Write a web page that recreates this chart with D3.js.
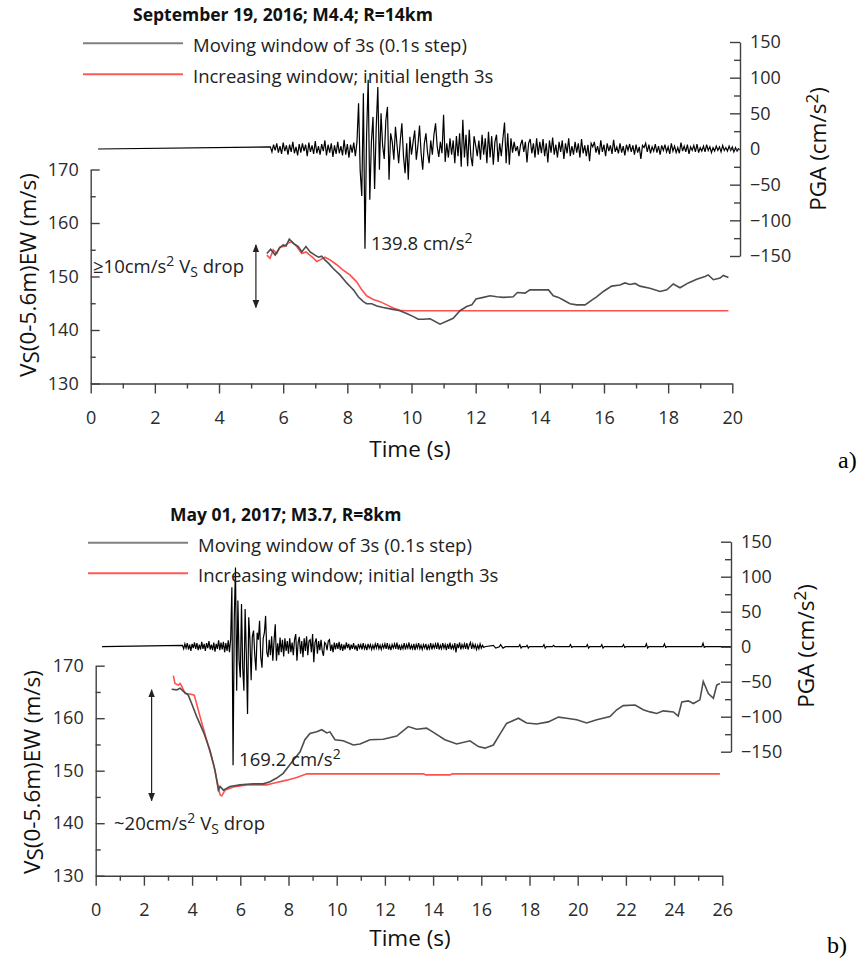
<!DOCTYPE html>
<html lang="en">
<head>
<meta charset="UTF-8">
<title>Vs drop during two events</title>
<script src="https://d3js.org/d3.v7.min.js"></script>
<style>
    body { margin: 0; background: #fff; }
    svg { display: block; font-family: 'Open Sans', sans-serif; }
    .axis path, .axis line { stroke: #404040; stroke-width: 1.4px; }
    .axis text { fill: #2a2a2a; font-size: 18px; font-family: 'Open Sans', sans-serif; }
    .lbl { fill: #222; font-size: 18.5px; }
</style>
</head>
<body>
<svg id="chart" width="861" height="961"></svg>
<script>
// tick labels
const timeTicksA = [0, 2, 4, 6, 8, 10, 12, 14, 16, 18, 20];
const timeTicksB = [0, 2, 4, 6, 8, 10, 12, 14, 16, 18, 20, 22, 24, 26];
const vsTicks = [130, 140, 150, 160, 170];
const vsMinor = [135, 145, 155, 165];
const pgaTicks = [-150, -100, -50, 0, 50, 100, 150];
const pgaMinor = [-125, -75, -25, 25, 75, 125];
const legendLabels = ['Moving window of 3s (0.1s step)', 'Increasing window; initial length 3s'];

// a) accelerogram, flat from record start, then samples every 0.05 s from 5.6 s
const accelA_start = 0.23, accelA_t0 = 5.6, accelA_dt = 0.05;
const accelA = [
    3, -4, 6, -2, 8, -5, 4, -7, 9, -3, 5, -8, 6, -4, 10, -6, 3, -9, 7, -5,
    8, -3, 6, -10, 9, -4, 5, -7, 11, -6, 4, -8, 7, -3, 12, -9, 6, -5, 8, -11,
    5, -7, 10, -6, 4, -9, 13, -8, 7, -12, 6, -5, 9, -10,
    10, 64, -30, -66, 78, -139.8,
    20, 97, -71, 10, 45, -56, 30, 87, -29, 50,
    5, -14, 40, 59, -43, 22, 10, -15, 31, 5,
    -20, 12, 36, -10, -34, 8, -43, 17, -8, 10,
    26, -15, 5, 33, -6, -29, 8, 22, -5, -20,
    12, -8, 20, 36, 4, -11, 10, -6, 48, -18,
    8, -12, 15, -8, 12, -20, 18, -10, 22, -25,
    41, -12, 20, -24, 27, -10, -24, 18, 5, -10,
    12, -15, 20, -8, 15, -20, 24, -12, 18, -22,
    10, 20, -18, 8, -10, 15, 37, -20, 22, -22,
    15, -5, 10, -3, 4, -10, 6, 13, -4, 10,
    -19, 8, 14, -6, 8, -12, 15, -8, 10, -6,
    14, -10, 8, -19, 12, -5, 16, -8, 6, -12,
    10, -4, 12, -14, 8, -6, 15, -10, 4, -8,
    10, -5, 8, -12, 14, -6, 5, -10, 6, -17,
    8, 3, 10, -5, 4, -8, 12, -4, 6, -10,
    8, -3, 5, -7, 13, -4, 3, -6, 8, -5,
    4, -9, 6, -2, 7, -4, 5, -8, 6, -5,
    3, -14, 5, 2, 8, -4, 6, -6, 3, -3,
    7, -5, 4, -8, 5, -2, 6, -4, 3, -7,
    8, -3, 4, -5, 2, -6, 9, -3, 4, -4,
    6, -7, 3, -2, 5, -4, 7, -5, 2, -3,
    4, -4, 6, -2, 3, -5, 2, -3, 4, -2,
    3, -4, 5, -2, 2, -3, 4, -2, 3, -4,
    2, -3, 1
];
const accelA_tail = [];

// a) Vs(0-5.6m) EW, [time s, m/s]
const vsMovingA = [
    [5.49, 154.3], [5.61, 155.1], [5.75, 154.0], [5.88, 155.3], [6.00, 155.9], [6.09, 155.7], [6.19, 157.0],
    [6.32, 156.2], [6.47, 155.6], [6.58, 154.6], [6.71, 155.6], [6.84, 154.6], [6.99, 154.0], [7.10, 153.6],
    [7.20, 153.8], [7.30, 153.1], [7.41, 152.5], [7.56, 151.5], [7.77, 150.3], [7.98, 148.8], [8.14, 147.8],
    [8.19, 147.5], [8.34, 146.2], [8.50, 145.3], [8.60, 144.9], [8.76, 144.9], [8.92, 144.5], [9.12, 144.2],
    [9.38, 143.9], [9.64, 143.6], [9.85, 143.1], [10.06, 142.5], [10.21, 142.0], [10.37, 142.0], [10.58, 142.1],
    [10.89, 141.1], [11.30, 142.2], [11.51, 143.6], [11.72, 144.4], [11.88, 144.7], [12.01, 145.8], [12.24, 146.1],
    [12.45, 146.4], [12.66, 146.2], [12.86, 146.1], [13.17, 146.2], [13.30, 147.0], [13.54, 146.9], [13.69, 147.5],
    [14.01, 147.5], [14.27, 147.5], [14.42, 146.4], [14.58, 146.1], [14.73, 145.6], [14.94, 144.9], [15.15, 144.7],
    [15.41, 144.7], [15.62, 145.6], [15.77, 146.2], [15.98, 147.2], [16.24, 148.2], [16.50, 148.4], [16.65, 148.8],
    [16.81, 148.5], [16.97, 148.7], [17.12, 148.2], [17.43, 147.8], [17.75, 147.2], [17.96, 147.5], [18.16, 148.6],
    [18.37, 147.9], [18.63, 148.8], [18.89, 149.5], [19.15, 150.0], [19.25, 150.3], [19.41, 149.4], [19.62, 149.7],
    [19.72, 150.2], [19.88, 149.8]
];
const vsIncreasingA = [
    [5.49, 154.0], [5.59, 153.4], [5.69, 155.0], [5.80, 154.3], [5.90, 155.5], [6.03, 155.6], [6.13, 156.2],
    [6.27, 156.5], [6.42, 155.6], [6.58, 154.3], [6.71, 154.6], [6.89, 153.7], [7.05, 152.8], [7.15, 153.1],
    [7.30, 153.6], [7.46, 153.1], [7.67, 152.2], [7.87, 151.2], [8.08, 150.3], [8.29, 149.0], [8.45, 147.5],
    [8.60, 146.4], [8.81, 145.7], [9.02, 145.3], [9.23, 144.7], [9.43, 144.1], [9.64, 143.7], [9.85, 143.6],
    [19.88, 143.6]
];

// b) accelerogram, samples every 0.05 s from 3.6 s, then sparse blips [t, a]
const accelB_start = 0.26, accelB_t0 = 3.6, accelB_dt = 0.05;
const accelB = [
    2, -3, 4, -2, 5, -4, 3, -6, 4, -2, 6, -3, 5, -5, 3, -4, 7, -3, 4, -6,
    5, -2, 8, -4, 3, -5, 6, -7, 4, -3, 9, -5, 6, -4, 7, -8, 5, -6, 9,
    -8, 11, 85, -169.2, 40, 113, -63, 66, -20, -44, 61,
    -30, -63, 54, -10, -96, 42, 10, -48, 15, 23,
    -12, -34, 20, 10, 37, -15, -30, 12, 20, 44,
    -8, -15, 10, -12, 15, -20, 8, 32, -20, 5,
    -12, 13, -8, 10, -14, 12, -6, 8, -10, 12,
    -8, 6, -12, 10, 18, -20, 6, 14, -10, 8,
    -15, 12, -6, 15, -12, 8, 10, -8, 18, -22,
    6, 12, -10, 8, -5, 10, -6, -13, 6, 4,
    -5, 8, 10, -6, 3, -8, 6, -4, 5, -3,
    7, -5, 4, -6, 3, -4, 6, -2, 4, -5,
    3, -3, 5, -4, 2, -6, 4, -2, 3, -4,
    5, -3, 2, -5, 4, -2, 3, -4, 2, -3,
    4, -2, 5, -3, 2, -4, 3, -2, 4, -3,
    5, -4, 2, -5, 3, -2, 4, -3, 6, -4,
    3, -5, 2, -3, 5, -4, 3, -2, 6, -4,
    2, -3, 4, -5, 3, -2, 5, -3, 2, -4,
    3, -2, 4, -5, 2, -3, 5, -4, 3, -2,
    4, -3, 6, -4, 2, -3, 5, -2, 3, -5,
    4, -3, 6, -4, 2, -3, 5, -8, 4, -2,
    6, -4, 3, -2, 4, -3, 5, -4, 2, 6,
    -3, 4, -2, 3, -4, 2, -3, 4, -2, 2,
    -1
];
const accelB_tail = [
    [16.15, 0], [16.5, 2], [16.6, -2], [16.75, 0], [16.8, 3], [16.9, -2], [17.0, 0], [17.55, 0], [17.6, 3],
    [17.65, -2], [17.7, 0], [17.85, 0], [17.9, 2], [17.95, -2], [18.0, 0], [18.55, 0], [18.6, 3], [18.65, -2],
    [18.7, 0], [18.95, 0], [19.0, 2], [19.05, 0], [19.65, 0], [19.7, 3], [19.75, -1], [19.8, 0], [20.35, 0],
    [20.4, 3], [20.45, -2], [20.5, 0], [20.95, 0], [21.0, 3], [21.05, -2], [21.1, 0], [21.85, 0], [21.9, 3],
    [21.95, -1], [22.0, 0], [22.8, 0], [22.85, 4], [22.9, -2], [22.95, 0], [23.55, 0], [23.6, 4], [23.65, -1],
    [23.7, 0], [25.15, 0], [25.2, 5], [25.25, -1], [25.3, 0], [26.35, 0]
];

const vsMovingB = [
    [3.15, 165.5], [3.36, 165.4], [3.50, 165.7], [3.64, 165.1], [3.84, 164.4], [3.98, 162.8], [4.19, 160.3],
    [4.47, 157.4], [4.74, 153.9], [4.95, 150.1], [5.09, 146.3], [5.16, 147.0], [5.30, 146.3], [5.57, 147.0],
    [5.99, 147.3], [6.54, 147.5], [6.95, 147.5], [7.23, 147.9], [7.51, 148.6], [7.78, 149.5], [8.20, 152.0],
    [8.48, 153.6], [8.68, 155.9], [8.89, 157.1], [9.17, 157.4], [9.38, 157.8], [9.59, 157.2], [9.72, 157.4],
    [9.93, 155.9], [10.27, 155.7], [10.69, 154.9], [10.97, 155.1], [11.38, 155.9], [11.93, 156.0], [12.49, 156.6],
    [12.97, 158.4], [13.32, 157.9], [13.73, 158.1], [14.08, 157.1], [14.49, 155.9], [14.98, 155.1], [15.53, 155.7],
    [15.88, 154.6], [16.15, 154.3], [16.50, 154.9], [16.78, 157.0], [17.05, 159.0], [17.54, 160.0], [17.88, 159.1],
    [18.30, 158.9], [18.78, 159.3], [19.20, 160.2], [19.54, 160.0], [19.96, 159.7], [20.37, 159.1], [20.79, 159.7],
    [21.34, 160.3], [21.62, 161.6], [21.89, 162.4], [22.38, 162.5], [22.72, 161.6], [23.00, 161.2], [23.28, 160.9],
    [23.55, 161.4], [23.97, 161.2], [24.17, 160.4], [24.32, 163.1], [24.59, 163.3], [24.80, 162.8], [25.07, 163.5],
    [25.21, 167.0], [25.42, 164.7], [25.63, 163.8], [25.77, 166.3], [25.90, 166.6]
];
const vsIncreasingB = [
    [3.22, 168.1], [3.29, 166.6], [3.43, 166.3], [3.50, 166.6], [3.57, 166.1], [3.71, 164.7], [3.91, 164.6],
    [4.09, 164.4], [4.33, 160.3], [4.60, 155.9], [4.88, 151.4], [5.16, 145.4], [5.23, 145.2], [5.37, 146.3],
    [5.71, 146.9], [6.27, 147.3], [7.10, 147.3], [7.37, 147.6], [7.93, 148.2], [8.34, 148.7], [8.76, 149.4],
    [13.60, 149.4], [13.70, 149.2], [14.70, 149.2], [14.80, 149.4], [25.90, 149.4]
];

const panels = [
    {
        title: 'September 19, 2016; M4.4; R=14km', tag: 'a)', peak: '139.8', peakT: 8.55, peakA: -139.8,
        dropPrefix: '\u226510cm/s', drop: { t: 5.15, from: 144.2, to: 155.9 }, dropText: [93, 273],
        timeTicks: timeTicksA, xRange: [90.7, 732.3], vsRange: [383.5, 169.5], pgaRange: [256, 42], pgaX: 740,
        accel: accelA, accelStart: accelA_start, accelT0: accelA_t0, accelDt: accelA_dt, accelTail: accelA_tail,
        moving: vsMovingA, increasing: vsIncreasingA,
        titleX: 133, titleY: 20.5, legX: 83, legY: [43.3, 74.3], legTextY: [51.5, 82.5],
        vsLabel: [36, 275], pgaLabel: [826, 149], timeY: 457, tagPos: [838, 468]
    },
    {
        title: 'May 01, 2017; M3.7, R=8km', tag: 'b)', peak: '169.2', peakT: 5.70, peakA: -169.2,
        dropPrefix: '~20cm/s', drop: { t: 2.32, from: 144.3, to: 165.4 }, dropText: [114, 830],
        timeTicks: timeTicksB, xRange: [95.7, 722.3], vsRange: [875.7, 665.7], pgaRange: [751.7, 541.7], pgaX: 731,
        accel: accelB, accelStart: accelB_start, accelT0: accelB_t0, accelDt: accelB_dt, accelTail: accelB_tail,
        moving: vsMovingB, increasing: vsIncreasingB,
        titleX: 170, titleY: 520.5, legX: 88, legY: [542.7, 573.3], legTextY: [551.5, 581.5],
        vsLabel: [40, 772], pgaLabel: [814, 646], timeY: 946, tagPos: [827, 953]
    }
];

const svg = d3.select('#chart');

svg.append('defs').append('marker')
    .attr('id', 'head')
    .attr('viewBox', '0 0 10 10')
    .attr('refX', 9).attr('refY', 5)
    .attr('markerWidth', 7).attr('markerHeight', 7)
    .attr('orient', 'auto-start-reverse')
    .append('path')
    .attr('d', 'M0,1 L10,5 L0,9 Z')
    .attr('fill', '#222');

function drawPanel(p) {
    const g = svg.append('g');
    const t1 = p.timeTicks[p.timeTicks.length - 1];

    const x = d3.scaleLinear().domain([0, t1]).range(p.xRange);
    const yVs = d3.scaleLinear().domain([130, 170]).range(p.vsRange);
    const yPga = d3.scaleLinear().domain([-150, 150]).range(p.pgaRange);

    // accelerogram (right axis)
    const accelPts = [[p.accelStart, 0]]
        .concat(p.accel.map((a, i) => [p.accelT0 + i * p.accelDt, a]))
        .concat(p.accelTail);
    g.append('path')
        .datum(accelPts)
        .attr('d', d3.line().x(d => x(d[0])).y(d => yPga(d[1])))
        .attr('fill', 'none')
        .attr('stroke', '#000')
        .attr('stroke-width', 1.2);

    // Vs curves (left axis)
    const vsLine = d3.line().x(d => x(d[0])).y(d => yVs(d[1]));
    g.append('path').datum(p.increasing).attr('d', vsLine)
        .attr('fill', 'none').attr('stroke', '#ff4f4f').attr('stroke-width', 1.6);
    g.append('path').datum(p.moving).attr('d', vsLine)
        .attr('fill', 'none').attr('stroke', '#4d4d4d').attr('stroke-width', 1.6);

    // time axis
    const baseY = p.vsRange[0];
    g.append('g').attr('class', 'axis')
        .attr('transform', `translate(0,${baseY})`)
        .call(d3.axisBottom(x).tickValues(p.timeTicks).tickSize(10).tickSizeOuter(0).tickPadding(18).tickFormat(d3.format('d')));
    g.append('g').attr('class', 'axis')
        .attr('transform', `translate(0,${baseY})`)
        .call(d3.axisBottom(x).tickValues(p.timeTicks.slice(1).map(d => d - 1)).tickSize(5).tickSizeOuter(0).tickFormat(''))
        .call(a => a.select('.domain').remove());

    // Vs axis
    const vsX = p.xRange[0];
    g.append('g').attr('class', 'axis')
        .attr('transform', `translate(${vsX},0)`)
        .call(d3.axisLeft(yVs).tickValues(vsTicks).tickSize(-9).tickSizeOuter(0).tickPadding(12));
    g.append('g').attr('class', 'axis')
        .attr('transform', `translate(${vsX},0)`)
        .call(d3.axisLeft(yVs).tickValues(vsMinor).tickSize(-5).tickSizeOuter(0).tickFormat(''))
        .call(a => a.select('.domain').remove());

    // PGA axis
    g.append('g').attr('class', 'axis')
        .attr('transform', `translate(${p.pgaX},0)`)
        .call(d3.axisRight(yPga).tickValues(pgaTicks).tickSize(-10).tickSizeOuter(0).tickPadding(10));
    g.append('g').attr('class', 'axis')
        .attr('transform', `translate(${p.pgaX},0)`)
        .call(d3.axisRight(yPga).tickValues(pgaMinor).tickSize(-6).tickSizeOuter(0).tickFormat(''))
        .call(a => a.select('.domain').remove());

    // title
    g.append('text')
        .attr('x', p.titleX).attr('y', p.titleY)
        .attr('font-size', 17.5).attr('font-weight', 'bold').attr('fill', '#111')
        .text(p.title);

    // legend
    const legColors = ['#808080', '#ff5a5a'];
    legendLabels.forEach((name, i) => {
        g.append('line')
            .attr('x1', p.legX).attr('x2', p.legX + 100)
            .attr('y1', p.legY[i]).attr('y2', p.legY[i])
            .attr('stroke', legColors[i]).attr('stroke-width', 2);
        g.append('text')
            .attr('class', 'lbl')
            .attr('x', p.legX + 110).attr('y', p.legTextY[i])
            .text(name);
    });

    // axis titles
    const vsT = g.append('text')
        .attr('transform', `translate(${p.vsLabel[0]},${p.vsLabel[1]}) rotate(-90)`)
        .attr('text-anchor', 'middle').attr('font-size', 22.5).attr('fill', '#111');
    vsT.append('tspan').text('V');
    vsT.append('tspan').attr('dy', 3).text('S');
    vsT.append('tspan').attr('dy', -3).text('(0-5.6m)EW (m/s)');

    const pgaT = g.append('text')
        .attr('transform', `translate(${p.pgaLabel[0]},${p.pgaLabel[1]}) rotate(-90)`)
        .attr('text-anchor', 'middle').attr('font-size', 22.5).attr('fill', '#111');
    pgaT.append('tspan').text('PGA (cm/s');
    pgaT.append('tspan').attr('dy', -8).attr('font-size', 17).text('2');
    pgaT.append('tspan').attr('dy', 8).text(')');

    g.append('text')
        .attr('x', 410).attr('y', p.timeY)
        .attr('text-anchor', 'middle').attr('font-size', 22.5).attr('fill', '#111')
        .text('Time (s)');

    g.append('text')
        .attr('x', p.tagPos[0]).attr('y', p.tagPos[1])
        .attr('font-family', "'Liberation Serif', serif").attr('font-size', 24).attr('fill', '#000')
        .text(p.tag);

    // peak label
    const pk = g.append('text')
        .attr('class', 'lbl')
        .attr('x', x(p.peakT) + 6).attr('y', yPga(p.peakA) + 1);
    pk.append('tspan').text(p.peak + ' cm/s');
    pk.append('tspan').attr('dy', -7).attr('font-size', 14).text('2');

    // Vs drop arrow and label
    g.append('line')
        .attr('x1', x(p.drop.t)).attr('x2', x(p.drop.t))
        .attr('y1', yVs(p.drop.to)).attr('y2', yVs(p.drop.from))
        .attr('stroke', '#222').attr('stroke-width', 1.2)
        .attr('marker-start', 'url(#head)').attr('marker-end', 'url(#head)');

    const dt = g.append('text')
        .attr('class', 'lbl')
        .attr('x', p.dropText[0]).attr('y', p.dropText[1]);
    dt.append('tspan').text(p.dropPrefix);
    dt.append('tspan').attr('dy', -7).attr('font-size', 14).text('2');
    dt.append('tspan').attr('dy', 7).text(' V');
    dt.append('tspan').attr('dy', 4).attr('font-size', 14).text('S');
    dt.append('tspan').attr('dy', -4).text(' drop');
}

panels.forEach(drawPanel);
</script>
</body>
</html>
